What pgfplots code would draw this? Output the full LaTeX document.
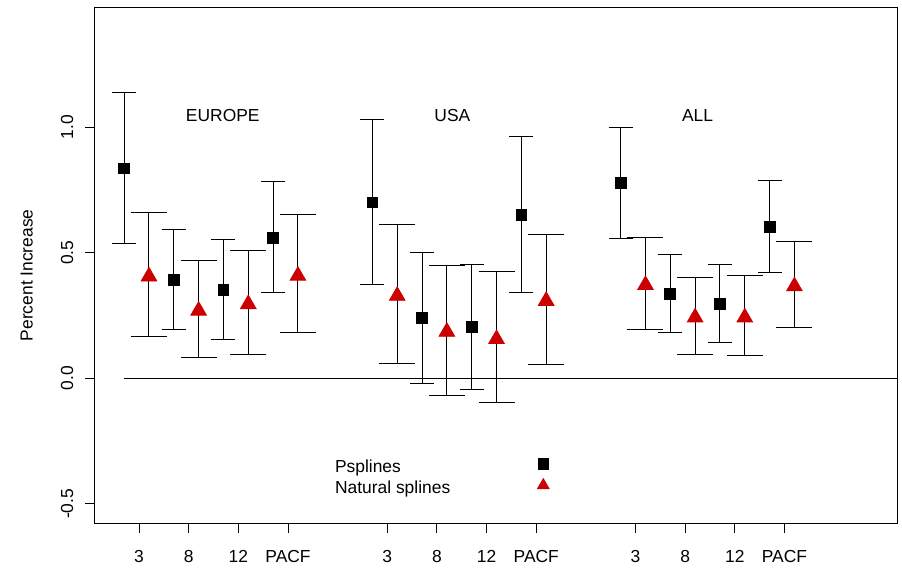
\documentclass[border=0pt]{standalone}
\usepackage{fontspec}
\setmainfont{Liberation Sans}
\usepackage{pgfplots}
\pgfplotsset{compat=1.18}
\usepackage{pgfplotstable}
\definecolor{rred}{RGB}{204,0,0}

% Psplines: x, estimate, lower, upper
\pgfplotstableread{
x y lo hi
0.7 0.835 0.535 1.139
1.7 0.390 0.194 0.592
2.7 0.353 0.155 0.554
3.7 0.560 0.341 0.784
5.7 0.700 0.373 1.028
6.7 0.239 -0.020 0.499
7.7 0.203 -0.045 0.453
8.7 0.651 0.341 0.964
10.7 0.777 0.555 0.999
11.7 0.336 0.181 0.494
12.7 0.296 0.142 0.451
13.7 0.604 0.421 0.789
}\psp

% Natural splines: x, estimate, lower, upper
\pgfplotstableread{
x y lo hi
1.2 0.405 0.165 0.659
2.2 0.269 0.081 0.470
3.2 0.295 0.096 0.509
4.2 0.408 0.182 0.651
6.2 0.328 0.060 0.612
7.2 0.185 -0.069 0.450
8.2 0.156 -0.098 0.424
9.2 0.308 0.054 0.572
11.2 0.371 0.195 0.562
12.2 0.242 0.093 0.401
13.2 0.242 0.090 0.410
14.2 0.366 0.200 0.546
}\nsp

\begin{document}
\begin{tikzpicture}
\begin{axis}[
  scale only axis,
  width=401.35pt, height=257.35pt,
  xmin=0.1, xmax=16.28, ymin=-0.5765, ymax=1.474,
  axis line style={line width=0.5pt},
  xtick={1,2,3,4,6,7,8,9,11,12,13,14},
  xticklabels={3,8,12,PACF,3,8,12,PACF,3,8,12,PACF},
  ytick={-0.5,0,0.5,1},
  yticklabels={-0.5,0.0,0.5,1.0},
  xtick pos=lower, ytick pos=left,
  tick align=outside, major tick length=4.75pt,
  tick style={black, line width=0.5pt},
  ticklabel style={font=\fontsize{8.7}{10}\selectfont},
  yticklabel style={xshift=-5.85pt, rotate=90, anchor=base, inner sep=0pt},
  xticklabel style={anchor=base, inner sep=0pt, yshift=-15.15pt},
  every axis y label/.style={at={(rel axis cs:0,0.481)}, xshift=-33.8pt, rotate=90, anchor=center, font=\fontsize{8.7}{10}\selectfont},
  ylabel={Percent Increase},
  clip=false,
  legend plot pos=right,
  legend cell align=left,
  legend style={at={(axis cs:4.948,-0.320)}, anchor=north west, draw=none, fill=none,
    inner sep=0pt, outer sep=0pt, row sep=0pt, column sep=0pt,
    nodes={inner sep=0pt, text height=7pt, text depth=3pt},
    font=\fontsize{8.7}{10}\selectfont},
  legend image code/.code={\path[draw=none, fill=none] (0pt,-5pt) rectangle (50pt,5pt); \draw[#1] plot coordinates {(46.5pt,2.2pt)};},
]
\addplot[black, line width=0.5pt, forget plot] coordinates {(0.7,0) (16.28,0)};

\addplot[only marks, mark=square*, mark size=2.7pt, black, forget plot,
  error bars/.cd, y dir=both, y explicit,
  error bar style={black, line width=0.5pt},
  error mark options={rotate=90, black, mark size=6pt, line width=0.5pt}]
  table[x=x, y=y, y error plus expr=\thisrow{hi}-\thisrow{y}, y error minus expr=\thisrow{y}-\thisrow{lo}] {\psp};

\addplot[only marks, mark=triangle*, mark size=4.5pt, rred, mark options={fill=rred, draw=rred}, forget plot,
  error bars/.cd, y dir=both, y explicit,
  error bar style={black, line width=0.5pt},
  error mark options={rotate=90, black, mark size=9pt, line width=0.5pt}]
  table[x=x, y=y, y error plus expr=\thisrow{hi}-\thisrow{y}, y error minus expr=\thisrow{y}-\thisrow{lo}] {\nsp};

\addlegendimage{only marks, mark=square*, mark size=2.7pt, black}
\addlegendentry{Psplines}
\addlegendimage{only marks, mark=triangle*, mark size=3.4pt, rred, mark options={fill=rred, draw=rred}}
\addlegendentry{Natural splines}

\node[font=\fontsize{8.7}{10}\selectfont, anchor=center] at (axis cs:2.686,1.044) {EUROPE};
\node[font=\fontsize{8.7}{10}\selectfont, anchor=center] at (axis cs:7.31,1.044) {USA};
\node[font=\fontsize{8.7}{10}\selectfont, anchor=center] at (axis cs:12.25,1.044) {ALL};

\coordinate (bbsw) at (rel axis cs:0,0);
\coordinate (bbne) at (rel axis cs:1,1);
\end{axis}
\pgfresetboundingbox
\path[use as bounding box] ([shift={(-47.15pt,-22.15pt)}]bbsw) rectangle ([shift={(2.15pt,3.98pt)}]bbne);
\end{tikzpicture}
\end{document}
